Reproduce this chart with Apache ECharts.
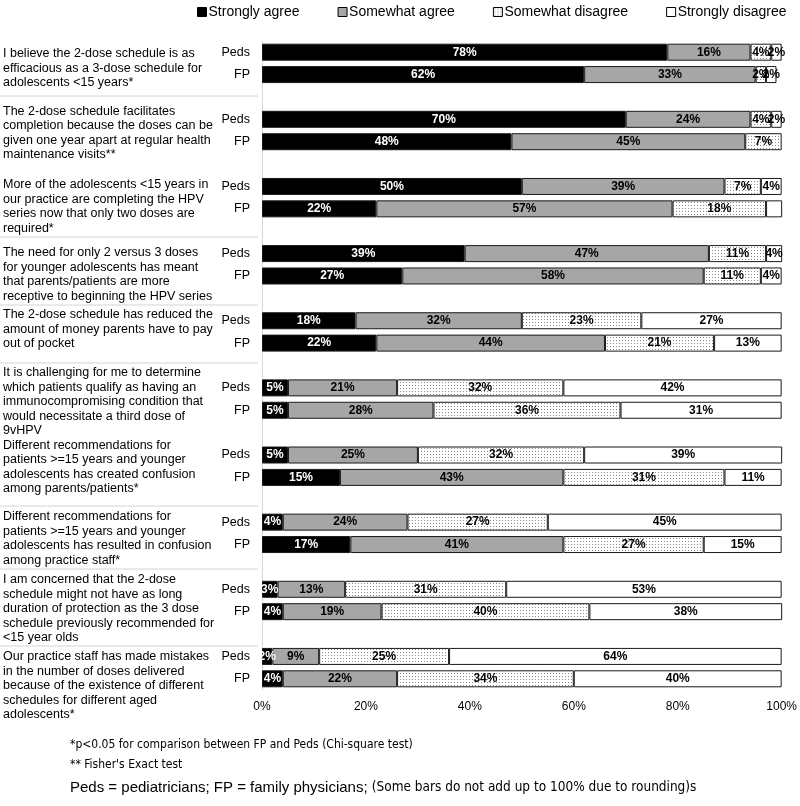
<!DOCTYPE html>
<html><head><meta charset="utf-8">
<script src="https://cdn.jsdelivr.net/npm/echarts@6/dist/echarts.min.js"></script>
<style>html,body{margin:0;padding:0;background:#fff}#c{width:800px;height:806px}</style>
</head><body><div id="c"></div>
<script>
// ---------- data ----------
const questions = [
  "I believe the 2-dose schedule is as\nefficacious as a 3-dose schedule for\nadolescents <15 years*",
  "The 2-dose schedule facilitates\ncompletion because the doses can be\ngiven one year apart at regular health\nmaintenance visits**",
  "More of the adolescents <15 years in\nour practice are completing the HPV\nseries now that only two doses are\nrequired*",
  "The need for only 2 versus 3 doses\nfor younger adolescents has meant\nthat parents/patients are more\nreceptive to beginning the HPV series",
  "The 2-dose schedule has reduced the\namount of money parents have to pay\nout of pocket",
  "It is challenging for me to determine\nwhich patients qualify as having an\nimmunocompromising condition that\nwould necessitate a third dose of\n9vHPV",
  "Different recommendations for\npatients >=15 years and younger\nadolescents has created confusion\namong parents/patients*",
  "Different recommendations for\npatients >=15 years and younger\nadolescents has resulted in confusion\namong practice staff*",
  "I am concerned that the 2-dose\nschedule might not have as long\nduration of protection as the 3 dose\nschedule previously recommended for\n<15 year olds",
  "Our practice staff has made mistakes\nin the number of doses delivered\nbecause of the existence of different\nschedules for different aged\nadolescents*"
];
const groups = ["Peds", "FP"];
const seriesNames = ["Strongly agree", "Somewhat agree", "Somewhat disagree", "Strongly disagree"];
// rows: Peds q1, FP q1, Peds q2, FP q2, ...
const stronglyAgree    = [78,62, 70,48, 50,22, 39,27, 18,22,  5, 5,  5,15,  4,17,  3, 4,  2, 4];
const somewhatAgree    = [16,33, 24,45, 39,57, 47,58, 32,44, 21,28, 25,43, 24,41, 13,19,  9,22];
const somewhatDisagree = [ 4, 2,  4, 7,  7,18, 11,11, 23,21, 32,36, 32,31, 27,27, 31,40, 25,34];
const stronglyDisagree = [ 2, 2,  2,null, 4, 4, 4, 4, 27,13, 42,31, 39,11, 45,15, 53,38, 64,40];
const unlabeledStronglyDisagreeRows = [5];
const xTicks = [0, 20, 40, 60, 80, 100];
const footnotes = [
  "*p<0.05 for comparison between FP and Peds (Chi-square test)",
  "** Fisher's Exact test"
];
const footnote3a = "Peds = pediatricians; FP = family physicians; ";
const footnote3b = "(Some bars do not add up to 100% due to rounding)s";

// ---------- layout (positions, not data) ----------
const textFirstLineY = [54, 111.5, 185, 253, 315, 373, 445.5, 517, 580, 657];
const separatorY = [96, 237, 305, 363, 506, 569, 646];
const LH = 14.5;

// ---------- build ----------
const slots = [];
const rowOfSlot = [];
questions.forEach((q, i) => {
  groups.forEach((g, j) => { slots.push(g); rowOfSlot.push(i * 2 + j); });
  if (i < questions.length - 1) { slots.push(""); rowOfSlot.push(-1); }
});

function dotPattern() {
  const c = document.createElement('canvas');
  c.width = 3; c.height = 3;
  const g = c.getContext('2d');
  g.fillStyle = '#ffffff'; g.fillRect(0, 0, 3, 3);
  g.fillStyle = '#8a8a8a'; g.fillRect(1, 1, 1, 1);
  return c;
}
const fills = ['#000000', '#a6a6a6', {image: dotPattern(), repeat: 'repeat'}, '#ffffff'];
const labelColors = ['#ffffff', '#000000', '#000000', '#000000'];
const values = [stronglyAgree, somewhatAgree, somewhatDisagree, stronglyDisagree];
const FONT = 'Arial, "Liberation Sans", sans-serif';

const series = seriesNames.map((name, k) => ({
  name, type: 'bar', stack: 'total', barWidth: 17,
  itemStyle: {color: fills[k], borderColor: '#1a1a1a', borderWidth: 1},
  label: {
    show: true, position: 'inside', color: labelColors[k],
    fontFamily: FONT, fontWeight: 'bold', fontSize: 12,
    formatter: p => (p.value ? p.value + '%' : '')
  },
  emphasis: {disabled: true},
  data: rowOfSlot.map(r => {
    if (r < 0) return '-';
    const v = values[k][r];
    if (v == null) return '-';
    if (k === 3 && unlabeledStronglyDisagreeRows.includes(r)) return {value: v, label: {show: false}};
    return v;
  })
}));

const graphics = [];
questions.forEach((q, i) => {
  graphics.push({type: 'text', left: 3, top: textFirstLineY[i] - LH / 2,
    style: {text: q, font: '12.5px ' + FONT, fill: '#000', lineHeight: LH}});
});
separatorY.forEach(y => {
  graphics.push({type: 'line', shape: {x1: 0, y1: y, x2: 258, y2: y}, style: {stroke: '#d4d4d4', lineWidth: 1}});
});
const narrow = '"Liberation Sans Narrow", "DejaVu Sans Condensed", Arial, sans-serif';
const footX = 70;
graphics.push({type: 'text', left: footX, top: 739, style: {text: footnotes[0], font: '12px ' + narrow, fill: '#000'}});
graphics.push({type: 'text', left: footX, top: 759, style: {text: footnotes[1], font: '12px ' + narrow, fill: '#000'}});
graphics.push({type: 'text', left: footX, top: 780, style: {
  text: '{a|' + footnote3a + '}{b|' + footnote3b + '}',
  rich: {a: {font: '15px ' + FONT, fill: '#000'}, b: {font: '13.5px ' + narrow, fill: '#000'}}
}});

const chart = echarts.init(document.getElementById('c'));
chart.setOption({
  animation: false,
  backgroundColor: '#fff',
  legend: {
    left: 192, top: 0, itemWidth: 9, itemHeight: 9, itemGap: 38, icon: 'rect',
    itemStyle: {borderColor: '#000', borderWidth: 1},
    textStyle: {fontSize: 14, color: '#000', fontFamily: FONT, padding: [0, 0, 0, -3]},
    data: seriesNames, selectedMode: false
  },
  grid: {left: 262, right: 17, top: 41, height: 649},
  xAxis: {
    type: 'value', min: xTicks[0], max: xTicks[xTicks.length - 1], interval: xTicks[1] - xTicks[0],
    axisLine: {show: false}, axisTick: {show: false}, splitLine: {show: false},
    axisLabel: {formatter: '{value}%', fontSize: 12, color: '#000', margin: 11, fontFamily: FONT}
  },
  yAxis: {
    type: 'category', inverse: true, data: slots, offset: 2,
    axisLine: {show: true, lineStyle: {color: '#d9d9d9', width: 1}},
    axisTick: {show: false},
    axisLabel: {fontSize: 12.5, color: '#000', margin: 10, fontFamily: FONT, interval: 0}
  },
  series,
  graphic: graphics
});
</script>
</body></html>
